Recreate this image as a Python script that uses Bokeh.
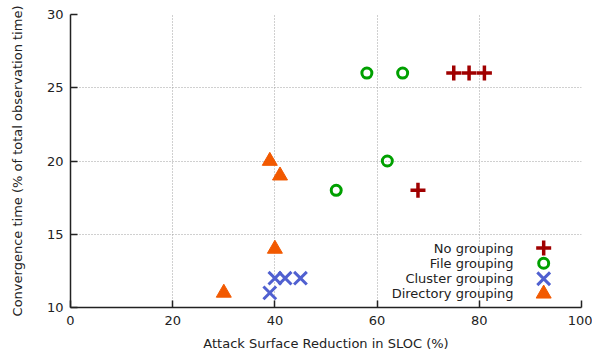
from bokeh.plotting import figure
from bokeh.models import Range1d, FixedTicker, Label
from bokeh.embed import file_html
from bokeh.resources import INLINE

# Data
no_x = [75, 78, 81, 68]
no_y = [26, 26, 26, 18]
file_x = [58, 65, 62, 52]
file_y = [26, 26, 20, 18]
cluster_x = [39, 40, 42, 45]
cluster_y = [11, 12, 12, 12]
dir_x = [39, 41, 40, 30]
dir_y = [20, 19, 14, 11]

series_names = ["No grouping", "File grouping", "Cluster grouping", "Directory grouping"]
series_colors = ["#A00000", "#00A000", "#5060D0", "#F25900"]
x_ticks = [0, 20, 40, 60, 80, 100]
y_ticks = [10, 15, 20, 25, 30]

FONT = "DejaVu Sans"
FS = "13px"

p = figure(width=592, height=356, frame_width=511, frame_height=293,
           output_backend="svg", toolbar_location=None,
           x_range=Range1d(0, 100), y_range=Range1d(10, 30),
           min_border_left=70, min_border_right=11, min_border_top=14, min_border_bottom=49)
p.outline_line_color = None
p.background_fill_color = "white"
p.border_fill_color = "white"

for ax, ticks in ((p.xaxis, x_ticks), (p.yaxis, y_ticks)):
    ax.ticker = FixedTicker(ticks=ticks)
    ax.minor_tick_line_color = None
    ax.major_tick_in = 7
    ax.major_tick_out = 0
    ax.major_tick_line_color = "#222222"
    ax.major_tick_line_width = 1.5
    ax.axis_line_color = "#222222"
    ax.axis_line_width = 1.5
    ax.major_label_text_font = FONT
    ax.major_label_text_font_size = FS
    ax.major_label_text_color = "#222222"
    ax.axis_label_text_font = FONT
    ax.axis_label_text_font_size = FS
    ax.axis_label_text_font_style = "normal"
    ax.axis_label_text_color = "#222222"

p.xaxis.axis_label = "Attack Surface Reduction in SLOC (%)"
p.yaxis.axis_label = "Convergence time (% of total observation time)"
p.xaxis.major_label_standoff = 8
p.xaxis.axis_label_standoff = 8
p.yaxis.major_label_standoff = 7
p.yaxis.axis_label_standoff = 19

for g in p.grid:
    g.grid_line_color = "#a0a0a0"
    g.grid_line_dash = "1 2"
    g.grid_line_width = 1
p.xgrid.ticker = FixedTicker(ticks=x_ticks)
p.ygrid.ticker = FixedTicker(ticks=y_ticks)


def draw(xs, ys, mk, color):
    if mk == "circle":
        p.scatter(xs, ys, marker=mk, size=10, fill_color=None, line_color=color, line_width=3)
    elif mk == "triangle":
        p.scatter(xs, ys, marker=mk, size=15, fill_color=color, line_color=color, line_width=1)
    elif mk == "cross":
        p.scatter(xs, ys, marker=mk, size=15, line_color=color, line_width=3.5)
    else:
        p.scatter(xs, ys, marker=mk, size=18, line_color=color, line_width=3)


markers = ["cross", "circle", "x", "triangle"]
for xs, ys, mk, color in zip([no_x, file_x, cluster_x, dir_x], [no_y, file_y, cluster_y, dir_y],
                             markers, series_colors):
    draw(xs, ys, mk, color)

# custom legend: text right-aligned, marker at right
leg_y = [14.06, 13.02, 11.96, 10.94]
leg_text_x = 86.7
leg_mark_x = 92.6
for name, color, ly, mk in zip(series_names, series_colors, leg_y, markers):
    p.add_layout(Label(x=leg_text_x, y=ly, text=name, text_align="right",
                       text_baseline="middle", text_font=FONT, text_font_size=FS,
                       text_color="#222222"))
    draw([leg_mark_x], [ly], mk, color)

open("out.html", "w").write(file_html(p, INLINE))
